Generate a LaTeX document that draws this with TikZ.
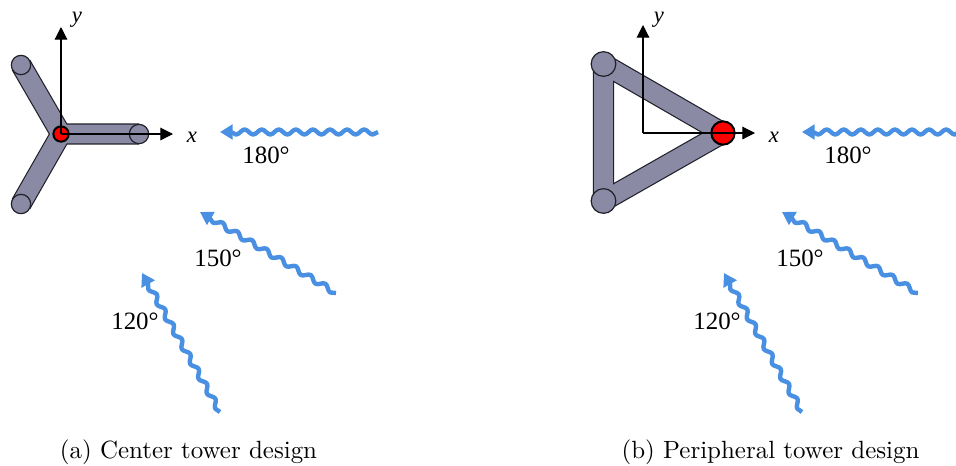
\documentclass[tikz,border=0pt]{standalone}
\usepackage{fontspec}
\setmainfont{Latin Modern Roman}
\newfontfamily\lblfont{Liberation Serif}
\usetikzlibrary{decorations.pathmorphing,arrows.meta}
\definecolor{barfill}{HTML}{8A8AA5}
\definecolor{wavecol}{HTML}{4A90E2}
\definecolor{edgecol}{HTML}{20202A}
\tikzset{
  x=0.75pt,y=-0.75pt,
  baroutline/.style={draw=edgecol,line width=15.9pt,line join=round},
  barinner/.style={draw=barfill,line width=14.1pt,line join=round},
  endcap/.style={circle,draw=edgecol,fill=barfill,line width=0.9pt,inner sep=0pt,minimum size=#1},
  redcap/.style={circle,draw=black,fill=red,line width=1.5pt,inner sep=0pt,minimum size=#1},
  axisline/.style={draw=black,line width=0.85pt,-{Triangle[length=9.5pt,width=9.5pt]}},
  wave/.style={draw=wavecol,line width=3.3pt,line join=round,decorate,
    decoration={snake,amplitude=1.9pt,segment length=12.8pt,post length=8pt,pre length=0pt},
    -{Triangle[length=9.5pt,width=11pt]}},
  axlabel/.style={font=\lblfont\itshape\fontsize{17}{20}\selectfont,inner sep=0pt},
  anglelabel/.style={font=\lblfont\fontsize{18.7}{22}\selectfont,inner sep=0pt},
  capt/.style={font=\fontsize{10}{12}\selectfont,inner sep=0pt,anchor=base}
}
\begin{document}
\begin{tikzpicture}
\useasboundingbox (0,0) rectangle (956,465);
\clip (0,0) rectangle (956,465);
% left design
\coordinate (oa) at (61,134);
\coordinate (ea) at (139,134);
\coordinate (eb) at (21,65);
\coordinate (ec) at (21,204);
\coordinate (xa) at (173,134);
\coordinate (ya) at (61,27);
\draw[baroutline] (oa) -- (ea) (oa) -- (eb) (oa) -- (ec);
\draw[barinner] (oa) -- (ea) (oa) -- (eb) (oa) -- (ec);
\fill[barfill] (oa) circle[radius=7pt];
\node[endcap=14.5pt] (na) at (ea) {};
\node[endcap=14.5pt] (nb) at (eb) {};
\node[endcap=14.5pt] (nc) at (ec) {};
\node[redcap=11.5pt] (ra) at (oa) {};
\draw[axisline] (oa) -- (xa);
\draw[axisline] (oa) -- (ya);
\node[axlabel] (lxa) at (192,137) {x};
\node[axlabel] (lya) at (77,20) {y};
% right design
\coordinate (ob) at (643,133);
\coordinate (va) at (723,133);
\coordinate (vb) at (603.5,64);
\coordinate (vc) at (603.5,201);
\coordinate (xb) at (755,133);
\coordinate (yb) at (643,25);
\draw[baroutline] (va) -- (vb) -- (vc) -- cycle;
\draw[barinner] (va) -- (vb) -- (vc) -- cycle;
\node[endcap=18.5pt] (nvb) at (vb) {};
\node[endcap=18.5pt] (nvc) at (vc) {};
\node[redcap=17.5pt] (rb) at (va) {};
\draw[axisline] (ob) -- (xb);
\draw[axisline] (ob) -- (yb);
\node[axlabel] (lxb) at (774,137) {x};
\node[axlabel] (lyb) at (659,20) {y};
% waves left
\coordinate (w1s) at (378,132); \coordinate (w1e) at (220,132);
\coordinate (w2s) at (336,293); \coordinate (w2e) at (200,212);
\coordinate (w3s) at (220,412); \coordinate (w3e) at (142,273);
\draw[wave] (w1s) -- (w1e);
\draw[wave] (w2s) -- (w2e);
\draw[wave] (w3s) -- (w3e);
\node[anglelabel] (t1) at (266,155) {180°};
\node[anglelabel] (t2) at (218,258) {150°};
\node[anglelabel] (t3) at (135,321) {120°};
% waves right
\coordinate (w4s) at (960,132); \coordinate (w4e) at (802,132);
\coordinate (w5s) at (918,293); \coordinate (w5e) at (782,212);
\coordinate (w6s) at (802,412); \coordinate (w6e) at (724,273);
\draw[wave] (w4s) -- (w4e);
\draw[wave] (w5s) -- (w5e);
\draw[wave] (w6s) -- (w6e);
\node[anglelabel] (t4) at (848,155) {180°};
\node[anglelabel] (t5) at (800,258) {150°};
\node[anglelabel] (t6) at (717,321) {120°};
% captions
\node[capt] (ca) at (188.5,458) {\scalebox{1.87}{(a) Center tower design}};
\node[capt] (cb) at (770.5,458) {\scalebox{1.87}{(b) Peripheral tower design}};
\end{tikzpicture}
\end{document}
